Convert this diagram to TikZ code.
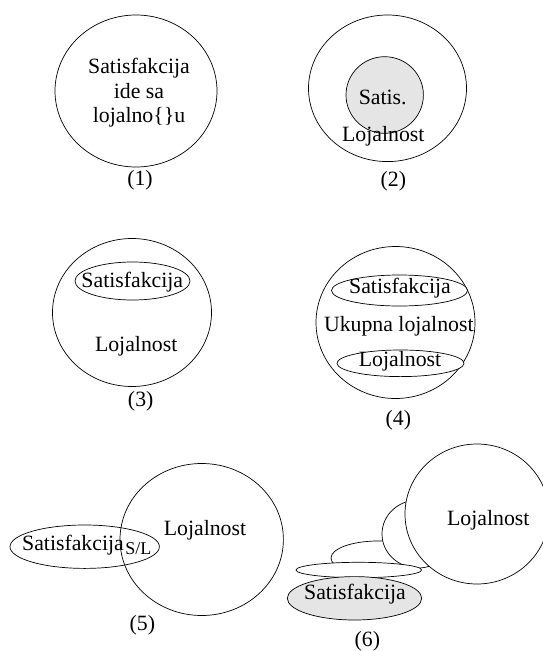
\documentclass[tikz,border=0pt]{standalone}
\usepackage{fontspec}
\setmainfont{Liberation Serif}
\begin{document}
\begin{tikzpicture}[x=1pt,y=-1pt,line width=0.7pt,
  txt/.style={font=\fontsize{21.8}{24.5}\selectfont, inner sep=0pt, align=center},
  smalltxt/.style={font=\fontsize{18}{20}\selectfont, inner sep=0pt},
  whiteshape/.style={draw=black, fill=white},
  grayshape/.style={draw=black, fill=black!10}]
\useasboundingbox (0,0) rectangle (543,651);
\clip (0,0) rectangle (543,651);

% ---- (1)
\draw[whiteshape] (136,91) ellipse [x radius=81, y radius=76];
\node[txt] (t1) at (139,93) {Satisfakcija\\ide sa\\lojalno\{\}u};
\node[txt] (l1) at (140,180) {(1)};

% ---- (2)
\draw[whiteshape] (387.5,88.3) ellipse [x radius=79, y radius=73.3];
\draw[grayshape] (384.7,95) ellipse [x radius=38.7, y radius=38.3];
\node[txt] (t2a) at (382.7,97.7) {Satis.};
\node[txt] (t2b) at (383.3,136.7) {Lojalnost};
\node[txt] (l2) at (393.3,181.7) {(2)};

% ---- (3)
\draw[whiteshape] (132,312.5) ellipse [x radius=79.5, y radius=74];
\draw[whiteshape] (132.5,281) ellipse [x radius=57.5, y radius=19];
\node[txt] (t3a) at (132.3,281.7) {Satisfakcija};
\node[txt] (t3b) at (136.2,346.7) {Lojalnost};
\node[txt] (l3) at (140.7,401.7) {(3)};

% ---- (4)
\draw[whiteshape] (395.5,322.5) ellipse [x radius=79.5, y radius=76];
\draw[whiteshape] (399.5,290.5) ellipse [x radius=68, y radius=15.5];
\node[txt] (t4a) at (400,288.3) {Satisfakcija};
\node[txt] (t4b) at (398.8,326) {Ukupna lojalnost};
\draw[whiteshape] (400.5,363.3) ellipse [x radius=63.5, y radius=13.3];
\node[txt] (t4c) at (400,361.7) {Lojalnost};
\node[txt] (l4) at (398.3,420) {(4)};

% ---- (5)
\draw (84.7,546.7) ellipse [x radius=74.7, y radius=21.7];
\draw (201.7,539.5) ellipse [x radius=81.7, y radius=76];
\node[txt] (t5a) at (73,545) {Satisfakcija};
\node[smalltxt] (t5b) at (138.3,548.3) {S/L};
\node[txt] (t5c) at (205,530) {Lojalnost};
\node[txt] (l5) at (142.3,625) {(5)};

% ---- (6)
\draw[whiteshape] (378,558) ellipse [x radius=47, y radius=17];
\draw[whiteshape] (418,534) ellipse [x radius=36, y radius=34];
\draw[whiteshape] (358.8,570) ellipse [x radius=62.8, y radius=7.7];
\draw[grayshape] (354.5,598.3) ellipse [x radius=67.2, y radius=21.7];
\node[txt] (t6a) at (355,594.3) {Satisfakcija};
\draw[whiteshape] (477,514) ellipse [x radius=72, y radius=70];
\node[txt] (t6b) at (488.3,520) {Lojalnost};
\node[txt] (l6) at (367.3,641.7) {(6)};
\end{tikzpicture}
\end{document}
